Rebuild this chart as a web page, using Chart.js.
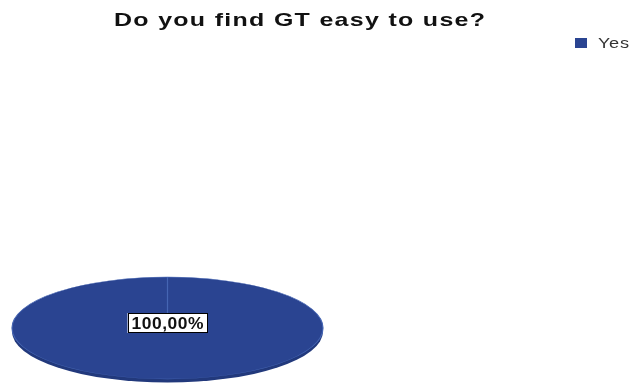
<!DOCTYPE html>
<html>
<head>
<meta charset="utf-8">
<script src="https://cdn.jsdelivr.net/npm/chart.js@4.4.1/dist/chart.umd.min.js"></script>
<style>
  html, body { margin: 0; padding: 0; background: #ffffff; overflow: hidden; }
  #wrap { position: relative; width: 633px; height: 385px; }
</style>
</head>
<body>
<div id="wrap"><canvas id="chart"></canvas></div>
<script>
// ---- data ----
const titleText = 'Do you find GT easy to use?';
const categories = ['Yes'];
const shares = [100];              // share of answers, percent
const sliceColors = ['#2a4491'];

// ---- look ----
const FONT = '"Liberation Sans", Arial, Helvetica, sans-serif';
const SIDE_COLOR = '#22397c';      // wall of the tilted disc
const SEAM_COLOR = '#4565b3';      // slice border

// Draw wide text: a little letter spacing, then a horizontal stretch up to the given width.
function wideText(ctx, text, left, baseline, font, width, color, spacing) {
  ctx.save();
  ctx.font = font;
  ctx.fillStyle = color;
  ctx.textAlign = 'left';
  ctx.textBaseline = 'alphabetic';
  let extra = 0;
  if ('letterSpacing' in ctx && spacing) {
    ctx.letterSpacing = spacing + 'px';
    extra = -spacing;               // no spacing after the last glyph
  }
  const natural = ctx.measureText(text).width + extra;
  ctx.translate(left, baseline);
  ctx.scale(width / natural, 1);
  ctx.fillText(text, 0, 0);
  ctx.restore();
}

const pctLabel = v => {
  const total = shares.reduce((a, b) => a + b, 0);
  return (v / total * 100).toFixed(2).replace('.', ',') + '%';
};

// Tilts the pie into a flat disc: squashes it about its centre and adds a thin side wall.
const discTilt = {
  id: 'discTilt',
  beforeDatasetsDraw(chart, args, opts) {
    const ctx = chart.ctx;
    const arc = chart.getDatasetMeta(0).data[0];
    const { x, y, outerRadius: r } = arc;
    const ry = r * opts.ratio;
    ctx.save();
    ctx.fillStyle = opts.sideColor;
    ctx.beginPath();
    ctx.ellipse(x, y + opts.depth, r, ry, 0, 0, Math.PI * 2);
    ctx.fill();
    ctx.fillRect(x - r, y, 2 * r, opts.depth);
    ctx.restore();

    ctx.save();
    ctx.translate(x, y);
    ctx.scale(1, opts.ratio);
    ctx.translate(-x, -y);
  },
  afterDatasetsDraw(chart, args, opts) {
    const ctx = chart.ctx;
    ctx.restore();
    // value label in a framed box at the disc centre
    const meta = chart.getDatasetMeta(0);
    meta.data.forEach((arc, i) => {
      const text = pctLabel(chart.data.datasets[0].data[i]);
      const cx = arc.x, cy = arc.y + opts.labelShift;
      const bw = 80, bh = 20;
      ctx.save();
      ctx.fillStyle = '#ffffff';
      ctx.fillRect(cx - bw / 2, cy - bh / 2, bw, bh);
      ctx.strokeStyle = '#000000';
      ctx.lineWidth = 1;
      ctx.strokeRect(Math.round(cx - bw / 2) + 0.5, Math.round(cy - bh / 2) + 0.5, bw - 1, bh - 1);
      ctx.restore();
      wideText(ctx, text, cx - 36, cy + 6, 'bold 16px ' + FONT, 72, '#111111', 0.5);
    });
  }
};

// Title and legend in the header area.
const header = {
  id: 'header',
  afterDraw(chart) {
    const ctx = chart.ctx;
    wideText(ctx, titleText, 114, 26, 'bold 19px ' + FONT, 371, '#111111', 1);
    const ds = chart.data.datasets[0];
    chart.data.labels.forEach((label, i) => {
      const top = 38 + i * 18;
      ctx.save();
      ctx.fillStyle = ds.backgroundColor[i];
      ctx.fillRect(575, top, 12, 10);
      ctx.restore();
      wideText(ctx, label, 598, top + 10, '14px ' + FONT, 31, '#333333', 0.5);
    });
  }
};

new Chart(document.getElementById('chart'), {
  type: 'pie',
  data: {
    labels: categories,
    datasets: [{
      data: shares,
      backgroundColor: sliceColors,
      borderColor: SEAM_COLOR,
      borderWidth: 1.2,
      radius: 155.5,
      clip: false
    }]
  },
  options: {
    responsive: true,
    maintainAspectRatio: false,
    animation: false,
    events: [],
    layout: { padding: { left: 12, right: 310, top: 277, bottom: 6 } },
    plugins: {
      legend: { display: false },
      title: { display: false },
      tooltip: { enabled: false },
      discTilt: { ratio: 0.328, depth: 3.5, sideColor: SIDE_COLOR, labelShift: -5 }
    }
  },
  plugins: [discTilt, header]
});
</script>
</body>
</html>
